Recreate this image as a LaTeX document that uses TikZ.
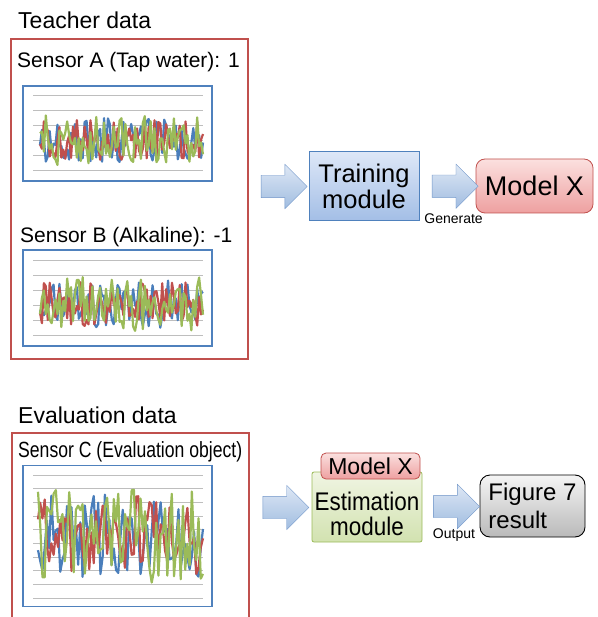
\documentclass[tikz,border=0pt]{standalone}
\usepackage{fontspec}
\setmainfont{Liberation Sans}
\usetikzlibrary{shapes.arrows,calc}
\definecolor{boxred}{RGB}{192,80,77}
\definecolor{chartblue}{RGB}{79,129,189}
\definecolor{serblue}{RGB}{74,126,187}
\definecolor{serred}{RGB}{192,80,77}
\definecolor{sergreen}{RGB}{155,187,89}
\definecolor{gridgray}{RGB}{190,190,190}
\definecolor{arrowtop}{RGB}{222,232,245}
\definecolor{arrowbot}{RGB}{160,188,224}
\definecolor{arrowline}{RGB}{110,148,200}
\definecolor{traintop}{RGB}{221,231,247}
\definecolor{trainbot}{RGB}{163,190,230}
\definecolor{modeltop}{RGB}{251,224,223}
\definecolor{modelbot}{RGB}{238,160,160}
\definecolor{esttop}{RGB}{240,245,227}
\definecolor{estbot}{RGB}{210,226,176}
\definecolor{restop}{RGB}{245,245,245}
\definecolor{resbot}{RGB}{185,185,185}

\tikzset{
  redbox/.style={draw=boxred, line width=1.1pt},
  chart/.style={draw=chartblue, line width=1.2pt, inner sep=0pt},
  blockarrow/.style={single arrow, draw=arrowline, top color=arrowtop, bottom color=arrowbot,
    minimum height=46pt, single arrow head extend=11pt, inner xsep=0pt, inner ysep=11pt},
  series/.style={line width=2.2pt, line join=round},
  title/.style={anchor=base west, inner sep=0pt, font=\fontsize{23}{27}\selectfont},
  sensor/.style={anchor=base west, inner sep=0pt, font=\fontsize{21}{25}\selectfont},
  small/.style={inner sep=0pt, font=\fontsize{14}{16}\selectfont}
}

\begin{document}
\begin{tikzpicture}[x=1pt,y=-1pt]
    \useasboundingbox (0,0) rectangle (597,617);
    % teacher data
    \node[title] (teacher) at (18,29) {Teacher data};
    \node[redbox, minimum width=237pt, minimum height=320pt] (box1) at (129.5,199) {};
    \node[sensor] (sensA) at (17,68) {Sensor A (Tap water): 1};
    \node[sensor] (sensB) at (20,243) {Sensor B (Alkaline): -1};
    \node[chart, minimum width=189pt, minimum height=95pt] (chartA) at (117.5,133.5) {};
    \node[chart, minimum width=189pt, minimum height=96pt] (chartB) at (117.5,298) {};
    \foreach \y in {96,111,...,171} \draw[gridgray, line width=1pt] (33,\y) -- (203,\y);
    \foreach \y in {260,275,...,335} \draw[gridgray, line width=1pt] (33,\y) -- (203,\y);
    \pgfmathsetseed{7}
    \foreach \c/\a in {serblue/22,serred/20,sergreen/25}
        \draw[\c, series] plot[domain=40:203, samples=85] (\x,{140+\a*rand});
    \foreach \c/\a in {serblue/24,serred/22,sergreen/27}
        \draw[\c, series] plot[domain=40:203, samples=85] (\x,{304+\a*rand});

    \node[draw=chartblue, line width=1pt, top color=traintop, bottom color=trainbot,
          minimum width=110pt, minimum height=69pt, align=center,
          font=\fontsize{25.5}{26}\selectfont] (train) at (364,186.5) {Training\\module};
    \node[draw=boxred, line width=0.8pt, rounded corners=9pt, top color=modeltop, bottom color=modelbot,
          minimum width=117pt, minimum height=54pt,
          font=\fontsize{27}{30}\selectfont] (modelX) at (534.5,186) {Model X};
    \node[blockarrow] (arr1) at ($(box1.east |- train.west)!.5!(train.west)$) {};
    \node[blockarrow] (arr2) at ($(train.east)!.5!(modelX.west)+(2,0)$) {};
    \node[small] (gen) at ($(arr2.south)+(4,21)$) {Generate};

    % evaluation data
    \node[title] (evaluation) at (18,423) {Evaluation data};
    \draw[redbox] (12,620) -- (12,433) -- (249,433) -- (249,620);
    \coordinate (box2e) at (249,508);
    \node[sensor, font=\fontsize{22}{26}\selectfont] (sensC) at (18,457)
        {\scalebox{.8}[1]{Sensor C (Evaluation object)}};
    \node[chart, minimum width=189pt, minimum height=141pt] (chartC) at (117.5,536) {};
    \foreach \i in {0,...,9} \draw[gridgray, line width=1pt] (33,{475+13.67*\i}) -- (203,{475+13.67*\i});
    \foreach \c/\a in {serblue/42,serred/40,sergreen/47}
        \draw[\c, series] plot[domain=38:203, samples=75] (\x,{536+\a*rand});

    \node[draw=sergreen, line width=0.8pt, rounded corners=2pt, top color=esttop, bottom color=estbot,
          minimum width=110pt, minimum height=70pt] (estim) at (367,507) {};
    \node[align=center, inner sep=0pt, font=\fontsize{25.5}{25}\selectfont] (estimtext) at (367,514)
        {\scalebox{.88}[1]{Estimation}\\\scalebox{.88}[1]{module}};
    \node[draw=boxred, line width=0.8pt, rounded corners=5pt, top color=modeltop, bottom color=modelbot,
          minimum width=99pt, minimum height=26pt, inner sep=0pt,
          font=\fontsize{23}{26}\selectfont] (modelXs) at (370.5,466) {Model X};
    \node[draw=black, line width=0.9pt, rounded corners=10pt, top color=restop, bottom color=resbot,
          minimum width=105pt, minimum height=62pt, align=left,
          font=\fontsize{24}{28}\selectfont] (result) at (532.5,506) {Figure 7\\result};
    \node[blockarrow] (arr3) at ($(box2e)!.5!(estim.west)$) {};
    \node[blockarrow] (arr4) at ($(estim.east)!.5!(result.west)$) {};
    \node[small] (outp) at ($(arr4.south)+(3,17)$) {Output};
\end{tikzpicture}
\end{document}
